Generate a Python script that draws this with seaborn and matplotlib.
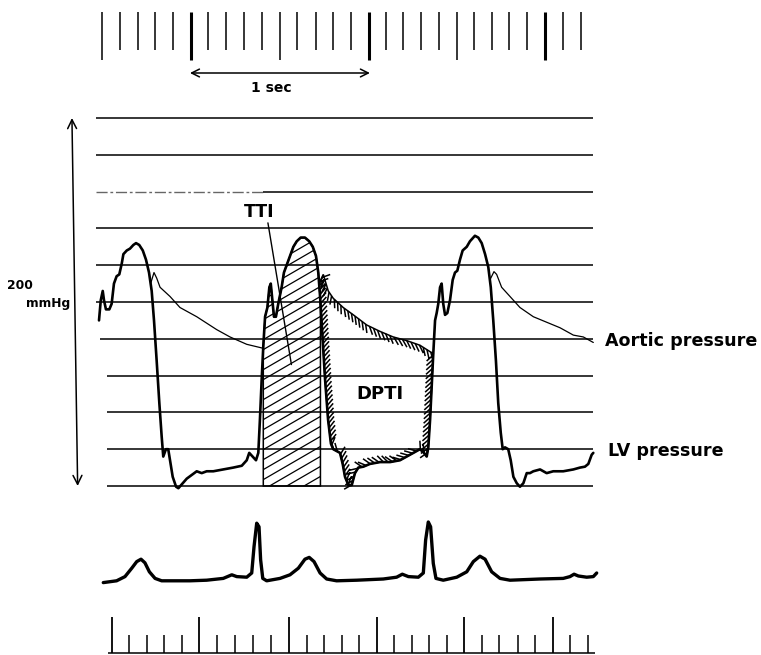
import numpy as np
import pandas as pd
import matplotlib
matplotlib.use("Agg")
import matplotlib.pyplot as plt
import matplotlib.patheffects as pe
from matplotlib.patches import Polygon
import seaborn as sns

# ---------------- data ----------------
# LV pressure: time (s) and pressure (mmHg)
lv_t = [0.000, 0.010, 0.021, 0.028, 0.039, 0.058, 0.071, 0.084, 0.099, 0.114,
        0.128, 0.137, 0.156, 0.174, 0.193, 0.208, 0.226, 0.246, 0.264, 0.281,
        0.296, 0.309, 0.324, 0.339, 0.352, 0.361, 0.376, 0.389, 0.399, 0.414,
        0.433, 0.446, 0.470, 0.493, 0.521, 0.549, 0.577, 0.605, 0.642, 0.698,
        0.754, 0.802, 0.830, 0.844, 0.863, 0.882, 0.895, 0.904, 0.914, 0.923,
        0.933, 0.946, 0.957, 0.965, 0.972, 0.983, 0.994, 1.007, 1.026, 1.039,
        1.058, 1.073, 1.092, 1.111, 1.133, 1.157, 1.181, 1.201, 1.219, 1.232,
        1.242, 1.253, 1.270, 1.287, 1.303, 1.316, 1.335, 1.354, 1.369, 1.382,
        1.401, 1.420, 1.438, 1.457, 1.485, 1.522, 1.579, 1.635, 1.691, 1.729,
        1.766, 1.803, 1.826, 1.841, 1.850, 1.860, 1.869, 1.878, 1.888, 1.897,
        1.906, 1.916, 1.925, 1.934, 1.944, 1.957, 1.972, 1.987, 2.000, 2.013,
        2.028, 2.043, 2.066, 2.084, 2.112, 2.131, 2.150, 2.169, 2.187, 2.201,
        2.215, 2.230, 2.243, 2.257, 2.268, 2.281, 2.299, 2.313, 2.328, 2.347,
        2.365, 2.384, 2.403, 2.421, 2.440, 2.478, 2.515, 2.552, 2.608, 2.665,
        2.702, 2.730, 2.749, 2.768, 2.777]
lv_p = [90, 101, 106, 101, 96, 96, 99, 110, 114, 115,
        121, 126, 128, 129, 131, 132, 131, 128, 123, 116,
        106, 90, 68, 45, 27, 16, 20, 20, 14, 5,
        -0.4, -1.2, 1.5, 4, 6, 8, 7, 8, 8, 9,
        10, 11, 14, 18, 16, 14, 18, 36, 58, 76,
        92, 97, 108, 110, 103, 92, 92, 99, 108, 116,
        121, 125, 130, 133, 135, 135, 133, 130, 125, 116,
        103, 85, 58, 36, 23, 20, 19, 18, 12, 5,
        0.5, 0.5, 7, 10, 10.5, 12, 13, 13, 14, 16,
        18, 20, 18, 16, 21, 36, 54, 72, 90, 94,
        99, 108, 110, 99, 93, 94, 101, 112, 116, 117,
        123, 128, 130, 133, 136, 135, 132, 126, 119, 108,
        90, 68, 45, 29, 20, 21, 20, 14, 5, 1.5,
        -0.4, 1.5, 7, 7, 8, 9, 7, 8, 8, 9,
        10, 10.5, 12, 17, 18]

# Aortic pressure (diastolic run-off of each beat): time (s), pressure (mmHg)
aortic1_t = [0.290, 0.309, 0.324, 0.343, 0.399, 0.455, 0.549, 0.661, 0.736, 0.830, 0.916]
aortic1_p = [110, 116, 113, 108, 103, 97, 92, 85, 81, 77, 75]
aortic2_t = [1.236, 1.260, 1.288, 1.316, 1.372, 1.429, 1.504, 1.579, 1.653, 1.729, 1.803, 1.860, 1.878]
aortic2_p = [110, 115, 106, 102, 97, 93, 87.5, 84, 81, 79, 76.5, 73, 72]
aortic3_t = [2.196, 2.219, 2.234, 2.262, 2.309, 2.365, 2.440, 2.515, 2.590, 2.665, 2.721, 2.777]
aortic3_p = [112, 116.5, 115, 108, 103, 97, 92, 89, 86, 82, 81, 78]

# ECG: time (s), amplitude (mV)
ecg_t = [0.024, 0.099, 0.146, 0.184, 0.212, 0.236, 0.258, 0.283, 0.315, 0.352,
         0.417, 0.511, 0.605, 0.698, 0.746, 0.774, 0.830, 0.858, 0.871, 0.886,
         0.899, 0.908, 0.920, 0.942, 1.017, 1.073, 1.120, 1.157, 1.181, 1.208,
         1.242, 1.279, 1.335, 1.448, 1.597, 1.672, 1.704, 1.738, 1.794, 1.822,
         1.835, 1.850, 1.863, 1.878, 1.893, 1.934, 2.010, 2.066, 2.103, 2.140,
         2.169, 2.206, 2.253, 2.309, 2.478, 2.608, 2.646, 2.669, 2.693, 2.740,
         2.777, 2.796]
ecg_mv = [-0.01, 0.02, 0.09, 0.23, 0.34, 0.38, 0.32, 0.17, 0.06, 0.02,
          0.02, 0.02, 0.03, 0.06, 0.12, 0.09, 0.08, 0.15, 0.59, 0.98,
          0.92, 0.37, 0.06, 0.02, 0.06, 0.12, 0.23, 0.38, 0.41, 0.34,
          0.15, 0.05, 0.02, 0.03, 0.05, 0.08, 0.13, 0.09, 0.08, 0.15,
          0.70, 1.00, 0.92, 0.31, 0.06, 0.03, 0.08, 0.17, 0.34, 0.43,
          0.38, 0.17, 0.06, 0.03, 0.05, 0.06, 0.09, 0.13, 0.10, 0.08,
          0.09, 0.15]

# Timer marks (top, 0.1 s) and time ruler marks (bottom), in seconds
timer_marks_s = [0.019, 0.118, 0.217, 0.315, 0.414, 0.515, 0.614, 0.713, 0.815, 0.914,
                 1.017, 1.114, 1.217, 1.316, 1.414, 1.515, 1.612, 1.710, 1.809, 1.908,
                 2.010, 2.107, 2.206, 2.305, 2.403, 2.506, 2.605, 2.706]
ruler_marks_s = [0.071, 0.170, 0.268, 0.365, 0.466, 0.563, 0.664, 0.764, 0.867, 0.966,
                 1.067, 1.167, 1.266, 1.363, 1.462, 1.560, 1.659, 1.757, 1.854, 1.954,
                 2.051, 2.150, 2.249, 2.353, 2.449, 2.549, 2.646, 2.749]

grid_mmhg = [0, 20, 40, 60, 80, 100, 120, 140, 160, 180, 200]

tti_window = (0.923, 1.244)       # s
one_sec = (0.511, 1.522)          # s, span of the "1 sec" bar

# ---------------- figure ----------------
sns.set_theme(style="white")
plt.rcParams['font.family'] = ['DejaVu Sans']

W, H = 761, 655
fig = plt.figure(figsize=(W / 100, H / 100), dpi=100)
fig.patch.set_facecolor("white")

ax = fig.add_axes([0, 0, 1, 1])
XL = (-99 / 178, (W - 99) / 178)
ax.set_xlim(*XL)
ax.set_ylim((486 - H) / 1.84, 486 / 1.84)
ax.axis("off")

xax = ax.get_xaxis_transform()   # x in seconds, y in figure fraction

def fy(py):
    return 1 - py / H

# grid lines
for g in grid_mmhg:
    start = 0.045 if g <= 60 else (0.006 if g == 80 else -0.017)
    if g == 160:
        ax.hlines(g, start, 0.92, color="#666666", lw=1.0, linestyles=(0, (8, 2, 2, 2)), zorder=1)
        ax.hlines(g, 0.92, 2.775, color="black", lw=1.1, zorder=1)
    else:
        ax.hlines(g, start, 2.775, color="black", lw=1.1, zorder=1)

# pressure curves
sns.lineplot(x=lv_t, y=lv_p, ax=ax, color="black", lw=1.9, sort=False,
             estimator=None, zorder=4)
for at, ap in [(aortic1_t, aortic1_p), (aortic3_t, aortic3_p)]:
    sns.lineplot(x=at, y=ap, ax=ax, color="black", lw=0.9, sort=False,
                 estimator=None, zorder=3)

lv_t_a = np.array(lv_t)
lv_p_a = np.array(lv_p, dtype=float)

# TTI region (area under LV pressure during systole)
t0, t1 = tti_window
sel = (lv_t_a > t0) & (lv_t_a < t1)
tt = np.concatenate([[t0], lv_t_a[sel], [t1]])
pp = np.concatenate([[np.interp(t0, lv_t_a, lv_p_a)], lv_p_a[sel], [np.interp(t1, lv_t_a, lv_p_a)]])
tti_xy = np.column_stack([np.concatenate([tt, [t1, t0]]), np.concatenate([pp, [0, 0]])])
tti_patch = Polygon(tti_xy, closed=True, facecolor="none", edgecolor="black", lw=1.1, zorder=3)
ax.add_patch(tti_patch)
k = 0.58 * 178 / 1.84
for c in np.arange(-40, 160, 10 / 1.84):
    ln, = ax.plot([t0 - 0.05, t1 + 0.05], [c + k * (-0.05), c + k * (t1 - t0 + 0.05)],
                  color="black", lw=0.9, zorder=2)
    ln.set_clip_path(tti_patch)

# DPTI region (between aortic and LV pressure in diastole)
a2t = np.array(aortic2_t)
a2p = np.array(aortic2_p, dtype=float)
sel2 = (lv_t_a > a2t[0]) & (lv_t_a <= a2t[-1])
dpti_xy = np.vstack([np.column_stack([a2t, a2p]),
                     np.column_stack([lv_t_a[sel2][::-1], lv_p_a[sel2][::-1]])])
dpti_patch = Polygon(dpti_xy, closed=True, facecolor="none", edgecolor="black", lw=1.1,
                     zorder=3,
                     path_effects=[pe.withTickedStroke(spacing=3.2, angle=-45, length=2.0)])
ax.add_patch(dpti_patch)

# labels
bold = dict(fontweight="bold", color="black")
ax.text(0.900, 149, "TTI", ha="center", va="center", fontsize=12.5, **bold)
ax.annotate("", xy=(1.081, 66), xytext=(0.949, 143),
            arrowprops=dict(arrowstyle="-", lw=1.0, color="black", shrinkA=0, shrinkB=0))
ax.text(1.579, 50, "DPTI", ha="center", va="center", fontsize=13, **bold)
ax.text(2.843, 79, "Aortic pressure", ha="left", va="center", fontsize=12.6, **bold)
ax.text(2.860, 19, "LV pressure", ha="left", va="center", fontsize=12.6, **bold)
ax.text(-0.517, 109, "200", ha="left", va="center", fontsize=8.8, **bold)
ax.text(-0.163, 99, "mmHg", ha="right", va="center", fontsize=8.8, **bold)

# vertical 200 mmHg arrow
ax.annotate("", xy=(-0.152, 200), xytext=(-0.120, 0),
            arrowprops=dict(arrowstyle="<->", lw=1.1, color="black", mutation_scale=16,
                            shrinkA=0, shrinkB=0))

# timer marks (top)
for i, tm in enumerate(timer_marks_s):
    long_mark = (i % 5 == 0)
    thick = (i % 10 == 5)
    ax.vlines(tm, fy(60 if long_mark else 50), fy(12), transform=xax,
              color="black", lw=2.2 if thick else 1.1)

# 1 sec bar
ax.annotate("", xy=(one_sec[1], fy(73)), xytext=(one_sec[0], fy(73)),
            xycoords=xax, textcoords=xax,
            arrowprops=dict(arrowstyle="<->", lw=1.1, color="black", mutation_scale=14,
                            shrinkA=0, shrinkB=0))
ax.text(sum(one_sec) / 2 - 0.05, fy(88), "1 sec", transform=xax, ha="center", va="center",
        fontsize=10, **bold)

# bottom time ruler
ax.hlines(fy(653), 0.051, 2.787, transform=xax, color="black", lw=1.1)
for i, tm in enumerate(ruler_marks_s):
    long_mark = (i % 5 == 0)
    ax.vlines(tm, fy(653), fy(617 if long_mark else 635), transform=xax,
              color="black", lw=1.3 if long_mark else 1.1)

# ECG strip
ax_e = fig.add_axes([0, (H - 600) / H, 1, 100 / H])
ax_e.set_xlim(*XL)
ax_e.set_ylim(-0.3, 82 / 60)
ax_e.axis("off")
ax_e.patch.set_alpha(0)
sns.lineplot(x=ecg_t, y=ecg_mv, ax=ax_e, color="black", lw=2.4, sort=False, estimator=None)

fig.savefig("out.png", dpi=100, facecolor="white")
